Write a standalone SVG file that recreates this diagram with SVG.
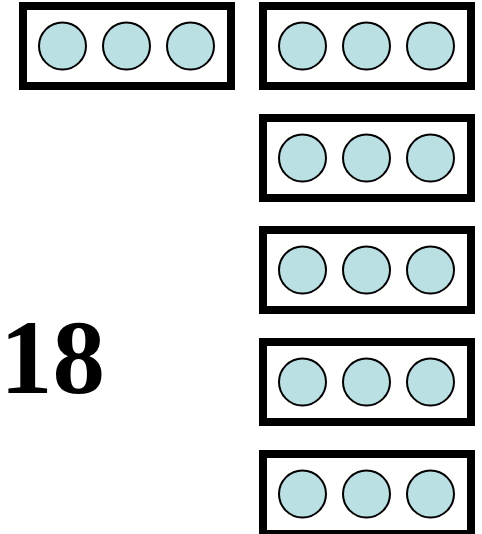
<svg xmlns="http://www.w3.org/2000/svg" width="482" height="534" viewBox="0 0 482 534">
<style>
.box{fill:#fff;stroke:#000;stroke-width:8}
.dot{fill:#bbe0e3;stroke:#000;stroke-width:2}
</style>
<defs>
<g id="frame">
<rect class="box" x="0" y="0" width="208" height="80"/>
<circle class="dot" cx="39.5" cy="40" r="23.5"/>
<circle class="dot" cx="103.5" cy="40" r="23.5"/>
<circle class="dot" cx="167.5" cy="40" r="23.5"/>
</g>
</defs>
<g id="node-left"><use href="#frame" x="23" y="6"/></g>
<g id="node-r1"><use href="#frame" x="263" y="6"/></g>
<g id="node-r2"><use href="#frame" x="263" y="118"/></g>
<g id="node-r3"><use href="#frame" x="263" y="230"/></g>
<g id="node-r4"><use href="#frame" x="263" y="342"/></g>
<g id="node-r5"><use href="#frame" x="263" y="454"/></g>
<g id="connectors"></g>
<g id="label"><text x="0" y="393" font-family="Liberation Serif, serif" font-weight="700" font-size="105" fill="#000">18</text></g>
</svg>
